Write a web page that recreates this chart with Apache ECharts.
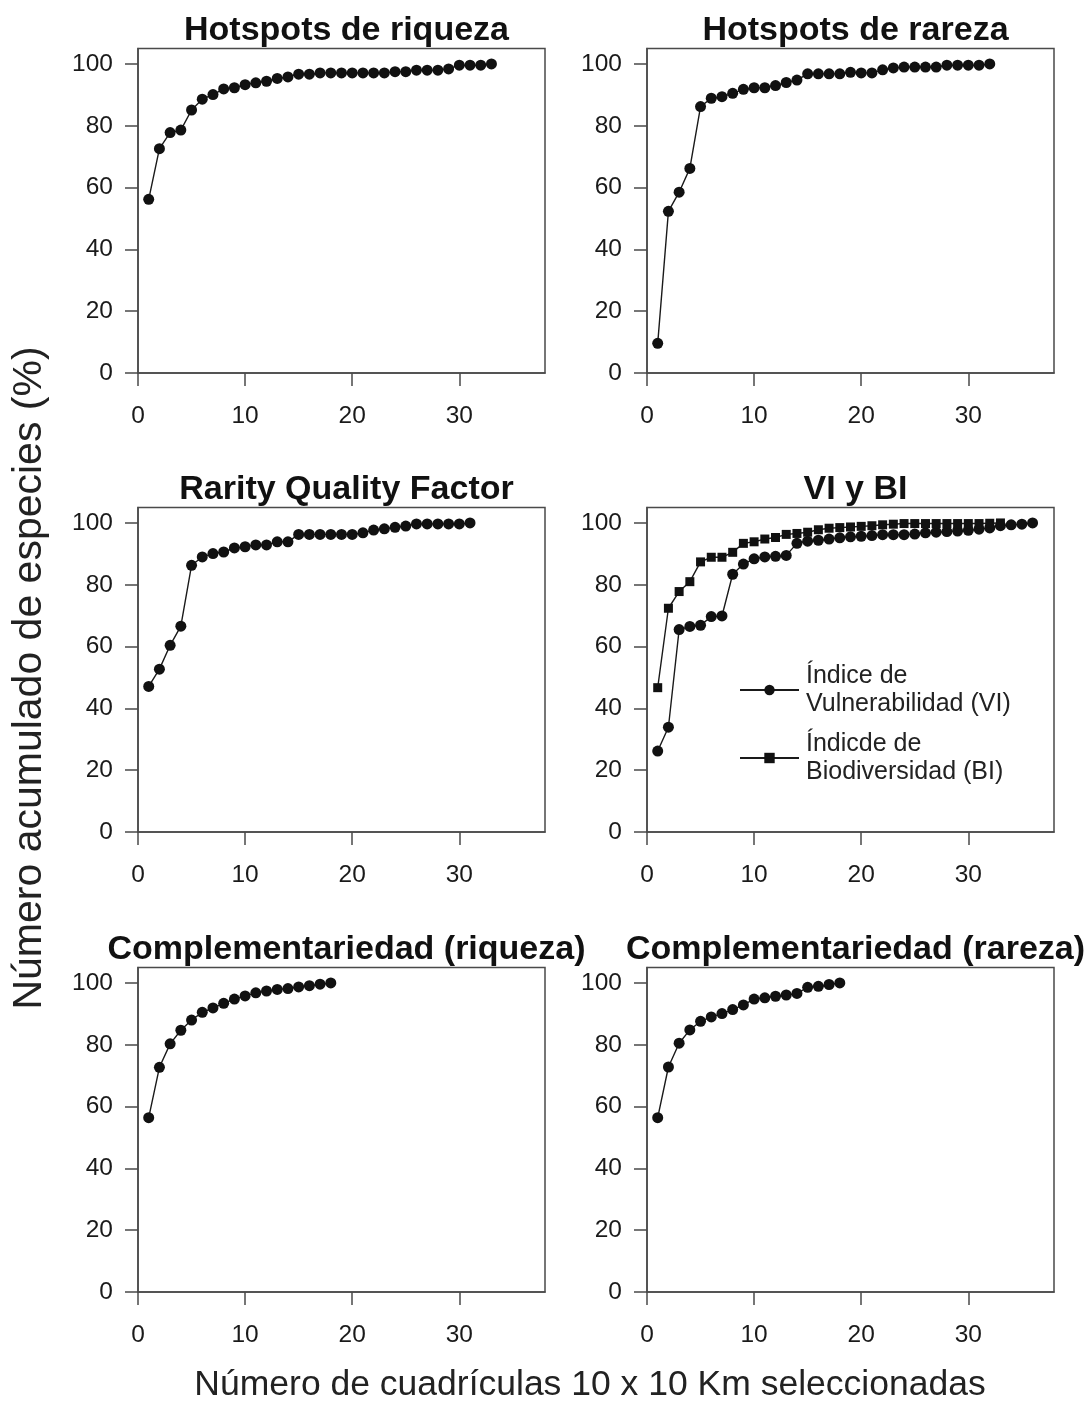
<!DOCTYPE html>
<html>
<head>
<meta charset="utf-8">
<script src="https://cdn.jsdelivr.net/npm/echarts@6/dist/echarts.min.js"></script>
<style>
  html, body { margin: 0; padding: 0; background: #fff; }
  #chart { width: 1086px; height: 1403px; }
</style>
</head>
<body>
<div id="chart"></div>
<script>
// panel titles, in drawing order (left->right, top->bottom)
const panelTitles = [
  'Hotspots de riqueza',
  'Hotspots de rareza',
  'Rarity Quality Factor',
  'VI y BI',
  'Complementariedad (riqueza)',
  'Complementariedad (rareza)',
];
const xTicks = [0, 10, 20, 30];
const yTicks = [0, 20, 40, 60, 80, 100];

// accumulated % of species, one value per selected cell (1, 2, 3 ...)
const hotspotsRiqueza = [56.2, 72.6, 77.8, 78.6, 85.1, 88.6, 90.1, 91.9, 92.3, 93.3, 93.9,
  94.4, 95.3, 95.8, 96.7, 96.7, 97.1, 97.1, 97.1, 97.1, 97.1, 97.1, 97.1, 97.5, 97.5,
  98.0, 98.0, 98.0, 98.4, 99.6, 99.6, 99.6, 100];
const hotspotsRareza = [9.6, 52.3, 58.5, 66.2, 86.2, 88.9, 89.4, 90.5, 91.8, 92.3, 92.3,
  93.0, 94.0, 94.8, 96.8, 96.8, 96.8, 96.8, 97.3, 97.1, 97.1, 98.1, 98.7, 99.0, 99.0,
  99.0, 99.0, 99.6, 99.6, 99.6, 99.6, 100];
const rarityQuality = [47.1, 52.7, 60.4, 66.6, 86.3, 89.0, 90.1, 90.6, 91.9, 92.3, 92.9,
  92.9, 93.9, 93.9, 96.3, 96.3, 96.3, 96.3, 96.3, 96.3, 96.8, 97.7, 98.1, 98.6, 99.0,
  99.7, 99.7, 99.7, 99.7, 99.7, 100];
const indiceVI = [26.2, 33.9, 65.5, 66.5, 66.9, 69.7, 69.9, 83.4, 86.7, 88.4, 89.0, 89.2,
  89.5, 93.4, 94.1, 94.4, 94.8, 95.2, 95.5, 95.7, 95.9, 96.2, 96.2, 96.2, 96.4, 96.8,
  97.0, 97.2, 97.4, 97.6, 98.0, 98.4, 99.1, 99.4, 99.6, 100];
const indiceBI = [46.7, 72.4, 77.8, 81.0, 87.4, 88.9, 88.9, 90.5, 93.4, 93.9, 94.8, 95.3,
  96.3, 96.6, 97.0, 97.8, 98.3, 98.5, 98.7, 98.9, 99.1, 99.4, 99.6, 99.8, 99.8, 99.8,
  99.8, 99.8, 99.8, 99.8, 99.8, 99.9, 100];
const compRiqueza = [56.4, 72.7, 80.3, 84.7, 88.0, 90.5, 91.9, 93.4, 94.8, 95.8, 96.8,
  97.4, 97.9, 98.2, 98.7, 99.1, 99.6, 100];
const compRareza = [56.4, 72.8, 80.5, 84.8, 87.6, 89.0, 90.1, 91.4, 92.9, 94.8, 95.2,
  95.7, 96.1, 96.6, 98.6, 98.9, 99.5, 100];

const legendVI = 'Índice de\nVulnerabilidad (VI)';
const legendBI = 'Índicde de\nBiodiversidad (BI)';

const font = "'Liberation Sans', Arial, Helvetica, sans-serif";
const ink = '#1a1a1a';
const frame = '#4a4a4a';

// panel boxes in px
const colLeft = [138, 647];
const rowTop = [48.5, 507.5, 967.5];
const boxW = 407;
const boxH = 324.5;

const toPoints = (arr) => arr.map((v, i) => [i + 1, v]);

const grids = [];
const xAxes = [];
const yAxes = [];
const titles = [];
panelTitles.forEach((t, i) => {
  const left = colLeft[i % 2];
  const top = rowTop[Math.floor(i / 2)];
  grids.push({
    left, top, width: boxW, height: boxH,
    show: true, borderColor: frame, borderWidth: 1.5, backgroundColor: '#fff',
  });
  xAxes.push({
    type: 'value', gridIndex: i, min: 0, max: 38,
    splitLine: { show: false },
    axisLine: { show: true, onZero: false, lineStyle: { color: frame, width: 1.5 } },
    axisTick: { show: true, length: 13, customValues: xTicks, lineStyle: { color: frame, width: 1.5 } },
    axisLabel: { customValues: xTicks, margin: 31, fontSize: 24.5, color: ink, fontFamily: font },
  });
  yAxes.push({
    type: 'value', gridIndex: i, min: 0, max: 105,
    splitLine: { show: false },
    axisLine: { show: true, onZero: false, lineStyle: { color: frame, width: 1.5 } },
    axisTick: { show: true, length: 13, customValues: yTicks, lineStyle: { color: frame, width: 1.5 } },
    axisLabel: { customValues: yTicks, margin: 25, fontSize: 24.5, color: ink, fontFamily: font },
  });
  titles.push({
    text: t,
    left: left + boxW / 2,
    top: top - 41,
    textAlign: 'center',
    textStyle: { fontSize: 34, fontWeight: 'bold', color: '#111', fontFamily: font, lineHeight: 36 },
  });
});

const lineSeries = (name, data, idx, symbol, size) => ({
  name,
  type: 'line',
  xAxisIndex: idx,
  yAxisIndex: idx,
  data: toPoints(data),
  symbol,
  symbolSize: size,
  showAllSymbol: true,
  lineStyle: { color: ink, width: 1.4 },
  itemStyle: { color: '#111', borderWidth: 0 },
  emphasis: { disabled: true },
  z: symbol === 'rect' ? 3 : 2,
});

const chart = echarts.init(document.getElementById('chart'));
chart.setOption({
  animation: false,
  backgroundColor: '#fff',
  title: titles,
  grid: grids,
  xAxis: xAxes,
  yAxis: yAxes,
  legend: {
    data: [legendVI, legendBI],
    orient: 'vertical',
    left: 734,
    top: 657,
    itemWidth: 59,
    itemHeight: 13,
    itemGap: 12,
    selectedMode: false,
    textStyle: { fontSize: 25, lineHeight: 28, color: '#222', fontFamily: font, padding: [0, 0, 0, 2] },
  },
  graphic: [
    {
      type: 'text', x: 30, y: 678, rotation: Math.PI / 2,
      style: {
        text: 'Número acumulado de especies (%)', fill: '#222', font: `41px ${font}`,
        align: 'center', verticalAlign: 'middle',
      },
    },
    {
      type: 'text', x: 590, y: 1385,
      style: {
        text: 'Número de cuadrículas 10 x 10 Km seleccionadas', fill: '#222', font: `35.5px ${font}`,
        align: 'center', verticalAlign: 'middle',
      },
    },
  ],
  series: [
    lineSeries('riqueza', hotspotsRiqueza, 0, 'circle', 11),
    lineSeries('rareza', hotspotsRareza, 1, 'circle', 11),
    lineSeries('rqf', rarityQuality, 2, 'circle', 11),
    lineSeries(legendVI, indiceVI, 3, 'circle', 11),
    lineSeries(legendBI, indiceBI, 3, 'rect', 9),
    lineSeries('compRiqueza', compRiqueza, 4, 'circle', 11),
    lineSeries('compRareza', compRareza, 5, 'circle', 11),
  ],
});
</script>
</body>
</html>
